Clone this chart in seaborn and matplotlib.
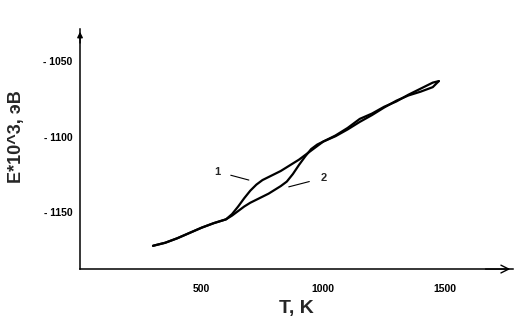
import numpy as np
import pandas as pd
import matplotlib
matplotlib.use("Agg")
import matplotlib.pyplot as plt
import matplotlib.transforms as mtransforms
import seaborn as sns

# temperature grid, K
temp = [300, 350, 400, 450, 500, 550, 600, 625, 650, 675, 700, 725, 750, 775, 800,
        825, 850, 875, 900, 925, 950, 975, 1000,
        1050, 1100, 1150, 1200, 1250, 1300, 1350, 1400, 1450, 1475]
# energy E*10^3, eV  (curve 1 and curve 2)
energy_1 = [-1167, -1165, -1162, -1158.5, -1155, -1152, -1149.5, -1146, -1141, -1135.5, -1130.5,
            -1126.5, -1123.5, -1121.5, -1119.5, -1117.5, -1115, -1112.5, -1110, -1107, -1104,
            -1101, -1098,
            -1094, -1089, -1083, -1079.5, -1075, -1071.5, -1067, -1063, -1059, -1058]
energy_2 = [-1167, -1165, -1162, -1158.5, -1155, -1152, -1149.5, -1147, -1144, -1141, -1138.5,
            -1136.5, -1134.5, -1132.5, -1130, -1127.5, -1124.5, -1119.5, -1113.5, -1108, -1103,
            -1100, -1098,
            -1094.5, -1090, -1085, -1080.5, -1075.5, -1071, -1067.5, -1065, -1062, -1058]
curve_names = ["1", "2"]

x_ticks = [500, 1000, 1500]
y_ticks = [-1050, -1100, -1150]
y_tick_labels = ["- 1050", "- 1100", "- 1150"]

df = pd.DataFrame({
    "T": temp * 2,
    "E": energy_1 + energy_2,
    "curve": [curve_names[0]] * len(temp) + [curve_names[1]] * len(temp),
})

sns.set_style("white")
plt.rcParams["font.family"] = ["Liberation Sans", "DejaVu Sans"]

fig = plt.figure(figsize=(5.3, 3.33), dpi=100)
ax = fig.add_axes([0.151, 0.192, 0.817, 0.721])

sns.lineplot(data=df, x="T", y="E", units="curve", estimator=None,
             color="black", linewidth=1.6, ax=ax, sort=False)

ax.set_xlim(0, 1780)
ax.set_ylim(-1182.4, -1023.5)

# axes look: left + bottom only, arrows at the ends
for s in ["top", "right"]:
    ax.spines[s].set_visible(False)
for s in ["left", "bottom"]:
    ax.spines[s].set_linewidth(1.1)
    ax.spines[s].set_color("black")
ax.annotate("", xy=(1.0, 0), xytext=(0.93, 0), xycoords="axes fraction",
            arrowprops=dict(arrowstyle="->", lw=1.0, color="black",
                            mutation_scale=14))
ax.annotate("", xy=(0, 1.0), xytext=(0, 0.93), xycoords="axes fraction",
            arrowprops=dict(arrowstyle="-|>", lw=1.0, color="black",
                            mutation_scale=8))

ax.set_xticks(x_ticks)
ax.set_xticklabels([str(t) for t in x_ticks], fontsize=7.5, fontweight="bold")
ax.set_yticks(y_ticks)
ax.set_yticklabels(y_tick_labels, fontsize=7.5, fontweight="bold")
ax.tick_params(axis="both", direction="out", length=5, width=0.8, colors="black")
ax.tick_params(axis="x", pad=6)
ax.tick_params(axis="y", pad=0.5)
# y labels sit a bit above their ticks
offset = mtransforms.ScaledTranslation(0, 8 / 100, fig.dpi_scale_trans)
for lab in ax.get_yticklabels():
    lab.set_transform(lab.get_transform() + offset)

ax.set_xlabel("T, K", fontsize=14, fontweight="bold", labelpad=4)
ax.set_ylabel("E*10^3, эВ", fontsize=13, fontweight="bold")
ax.yaxis.set_label_coords(-0.127, 0.55)

# curve numbers with leader lines
ax.annotate(curve_names[0], xy=(694, -1123.5), xytext=(566, -1118),
            fontsize=8, fontweight="bold", va="center", ha="center",
            arrowprops=dict(arrowstyle="-", lw=0.8, color="black", shrinkA=5, shrinkB=0))
ax.annotate(curve_names[1], xy=(858, -1128), xytext=(1002, -1122),
            fontsize=8, fontweight="bold", va="center", ha="center",
            arrowprops=dict(arrowstyle="-", lw=0.8, color="black", shrinkA=6, shrinkB=0))

fig.savefig("out.png", dpi=100)
